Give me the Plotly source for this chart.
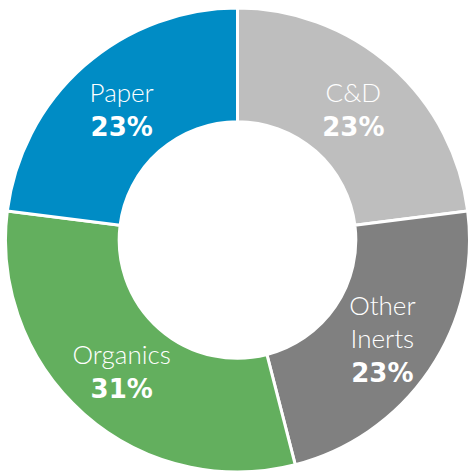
import plotly.graph_objects as go

categories = ["C&D", "Other<br>Inerts", "Organics", "Paper"]
values = [23, 23, 31, 23]
colors = ["#BEBEBE", "#808080", "#63AF5E", "#008CC5"]

fig = go.Figure(go.Pie(
    labels=categories,
    values=values,
    sort=False,
    direction="clockwise",
    rotation=0,
    hole=0.51,
    marker=dict(colors=colors, line=dict(color="white", width=3)),
    texttemplate="%{label}<br><span style=\"font-family:'DejaVu Sans';font-weight:bold;font-size:26px\">%{value}%</span>",
    textposition="inside",
    insidetextorientation="horizontal",
    textfont=dict(family="Lato", size=26, color="white", weight=300),
    hoverinfo="skip",
    showlegend=False,
))
fig.update_layout(
    width=471, height=473,
    margin=dict(l=5, r=1, t=8, b=1),
    paper_bgcolor="white",
    plot_bgcolor="white",
    uniformtext=dict(minsize=26, mode="show"),
)
fig.write_html("out.html", config={"displayModeBar": False},
               post_script="document.body.style.margin='0';")
